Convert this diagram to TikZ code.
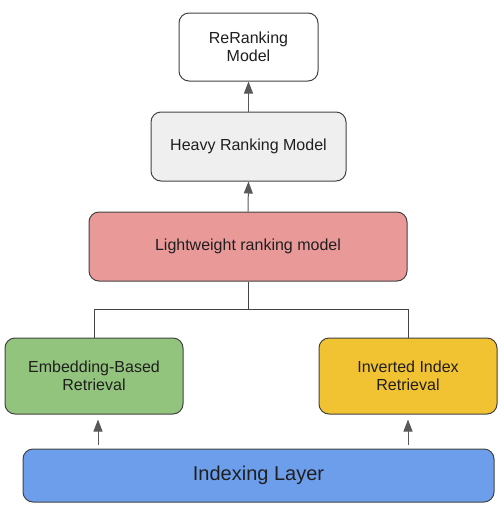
\documentclass[tikz,border=0pt]{standalone}
\usepackage{fontspec}
\setmainfont{Liberation Sans}
\usetikzlibrary{arrows.meta,calc}
\definecolor{bordc}{HTML}{434343}
\definecolor{arrc}{HTML}{595959}
\definecolor{txtc}{HTML}{1F1F1F}
\definecolor{grayf}{HTML}{EFEFEF}
\definecolor{redf}{HTML}{EA9999}
\definecolor{greenf}{HTML}{93C47D}
\definecolor{yellowf}{HTML}{F1C232}
\definecolor{bluef}{HTML}{6D9EEB}
\tikzset{
  box/.style={draw=bordc, line width=1pt, rounded corners=10pt, inner sep=0pt,
    align=center, text=txtc, font=\fontsize{16}{18.5}\selectfont},
  arr/.style={draw=arrc, line width=1pt, -{Triangle[width=9pt,length=12pt]}},
  link/.style={draw=bordc, line width=1pt},
}
\begin{document}
\begin{tikzpicture}[x=1pt,y=-1pt]
\useasboundingbox (0,0) rectangle (503,512);
\node[box, fill=white, minimum width=139pt, minimum height=68pt] (rr) at (248.5,47) {ReRanking\\Model};
\node[box, fill=grayf, minimum width=195pt, minimum height=69pt] (heavy) at (248.5,146.5) {Heavy Ranking Model};
\node[box, fill=redf, minimum width=318pt, minimum height=69pt] (light) at (248,246.5) {Lightweight ranking model};
\node[box, fill=greenf, minimum width=178pt, minimum height=76pt] (emb) at (94,376) {Embedding-Based\\Retrieval};
\node[box, fill=yellowf, minimum width=178pt, minimum height=76pt] (inv) at (408,376) {Inverted Index\\Retrieval};
\node[box, fill=bluef, minimum width=471pt, minimum height=53pt, font=\fontsize{20}{24}\selectfont] (idx) at (258.5,475.5) {Indexing Layer};
\draw[arr] (heavy.north) -- (rr.south);
\draw[arr] (light.north) -- (heavy.south);
\draw[link] (light.south) -- ++(0,28) coordinate (j) -| (emb.north);
\draw[link] (j) -| (inv.north);
\draw[arr, shorten <=4pt, shorten >=5pt] ([xshift=4pt]emb.south |- idx.north) -- ([xshift=4pt]emb.south);
\draw[arr, shorten <=4pt, shorten >=5pt] (inv.south |- idx.north) -- (inv.south);
\end{tikzpicture}
\end{document}
